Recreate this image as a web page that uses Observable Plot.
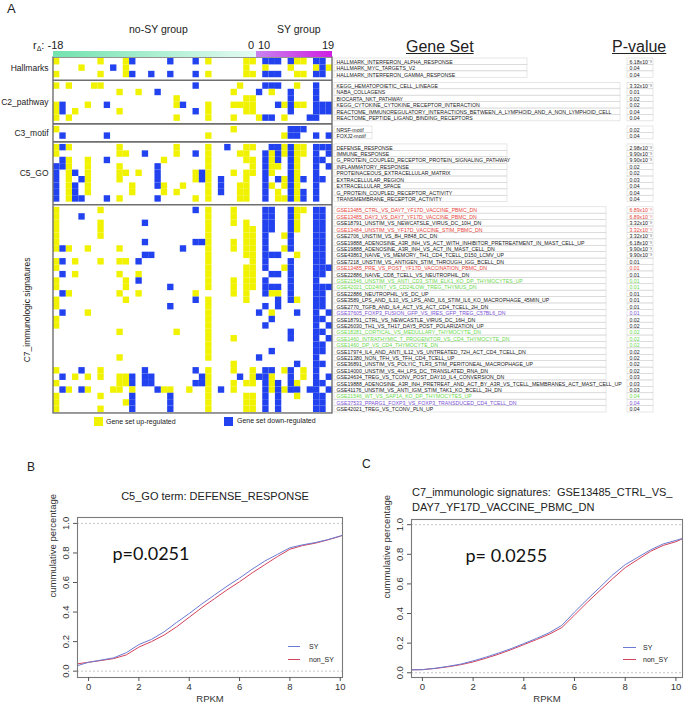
<!DOCTYPE html>
<html><head><meta charset="utf-8">
<script src="https://cdn.jsdelivr.net/npm/d3@7"></script>
<script src="https://cdn.jsdelivr.net/npm/@observablehq/plot@0.6"></script>
<style>
html,body{margin:0;padding:0;background:#fff;}
#fig{position:relative;width:688px;height:706px;overflow:hidden;font-family:"Liberation Sans",Arial,sans-serif;color:#222;}
#fig > svg, #fig > div{position:absolute;}
.t{white-space:nowrap;line-height:1;}
</style></head><body><div id="fig"></div>
<script>
// ================= DATA =================
const nCols = 44;   // ranked samples (r_delta): no-SY (-18 .. 0) then SY (10 .. 19)
const nNoSY = 32;
const groupNames = ["Hallmarks","C2_pathway","C3_motif","C5_GO","C7_immunologic signatures"];

const hallmarkSets = ["HALLMARK_INTERFERON_ALPHA_RESPONSE","HALLMARK_MYC_TARGETS_V2","HALLMARK_INTERFERON_GAMMA_RESPONSE"];
const hallmarkP = ["6.18x10\u207B\u00B3","0.04","0.04"];
const hallmarkUp = [[0,7,11,24,30,31,38,39],[4,11,30,33,37,41,43],[0,7,11,24,30,31,38,39]];
const hallmarkDown = [[12,18,22,33,34,35,37,41,42],[9,42],[12,15,18,22,33,34,35,41,42]];

const c2Sets = ["KEGG_HEMATOPOIETIC_CELL_LINEAGE","NABA_COLLAGENS","BIOCARTA_NKT_PATHWAY","KEGG_CYTOKINE_CYTOKINE_RECEPTOR_INTERACTION","REACTOME_IMMUNOREGULATORY_INTERACTIONS_BETWEEN_A_LYMPHOID_AND_A_NON_LYMPHOID_CELL","REACTOME_PEPTIDE_LIGAND_BINDING_RECEPTORS"];
const c2P = ["3.32x10\u207B\u00B3","0.01","0.02","0.02","0.04","0.04"];
const c2Up = [[0,2,6,7,29,38],[10,13,28,34],[19,30,31],[0,5,19,24,28,29,30,31,36,38,39],[0,3,10,24,30,31],[0,2,19,24,28,32,36]];
const c2Down = [[22,33,34,35,41],[16,32,37,41],[37,41],[1,8,20,35,37,41,42,43],[1,22,37,41,42,43],[33,34,40,41]];

const c3Sets = ["NRSF-motif","FOXJ2-motif"];
const c3P = ["0.02","0.04"];
const c3Up = [[0,28],[24,36]];
const c3Down = [[37,38,39],[1,8,37,38,41,43]];

const c5Sets = ["DEFENSE_RESPONSE","IMMUNE_RESPONSE","G_PROTEIN_COUPLED_RECEPTOR_PROTEIN_SIGNALING_PATHWAY","INFLAMMATORY_RESPONSE","PROTEINACEOUS_EXTRACELLULAR_MATRIX","EXTRACELLULAR_REGION","EXTRACELLULAR_SPACE","G_PROTEIN_COUPLED_RECEPTOR_ACTIVITY","TRANSMEMBRANE_RECEPTOR_ACTIVITY"];
const c5P = ["2.98x10\u207B\u00B3","9.90x10\u207B\u00B3","9.90x10\u207B\u00B3","0.02","0.02","0.03","0.04","0.04","0.04"];
const c5Up = [[0,2,10,19,24,30,31,36,38,39],[0,10,11,19,24,29,30,34,36,38,39],[2,5,17,24,30,31,34,38],[2,5,10,24,31,34,35,38],[2,5,10,11,13,22,24,28,30,31,34,38],[2,5,10,22,24,30,36,38],[2,5,12,17,20,24,29,30,34,36,38],[2,5,12,17,19,24,29,30,35,38],[2,10,22,24,29,30,35,36,38]];
const c5Down = [[1,27,34,35,37,41,42,43],[14,22,33,35,37,41,43],[1,8,33,35,37,41,42],[0,1,16,33,37,41,43],[0,3,16,23,33,37,41],[0,4,16,23,26,33,35,37,39,41,42],[0,3,16,26,33,37,41],[0,3,26,33,37,39,41],[0,3,4,8,16,33,37,39,41]];

const c7Sets = ["GSE13485_CTRL_VS_DAY7_YF17D_VACCINE_PBMC_DN","GSE13485_DAY3_VS_DAY7_YF17D_VACCINE_PBMC_DN","GSE18791_UNSTIM_VS_NEWCATSLE_VIRUS_DC_10H_DN","GSE13484_UNSTIM_VS_YF17D_VACCINE_STIM_PBMC_DN","GSE2706_UNSTIM_VS_8H_R848_DC_DN","GSE19888_ADENOSINE_A3R_INH_VS_ACT_WITH_INHIBITOR_PRETREATMENT_IN_MAST_CELL_UP","GSE19888_ADENOSINE_A3R_INH_VS_ACT_IN_MAST_CELL_DN","GSE43863_NAIVE_VS_MEMORY_TH1_CD4_TCELL_D150_LCMV_UP","GSE7218_UNSTIM_VS_ANTIGEN_STIM_THROUGH_IGG_BCELL_DN","GSE13485_PRE_VS_POST_YF17D_VACCINATION_PBMC_DN","GSE22886_NAIVE_CD8_TCELL_VS_NEUTROPHIL_DN","GSE21546_UNSTIM_VS_ANTI_CD3_STIM_ELK1_KO_DP_THYMOCYTES_UP","GSE42021_CD24INT_VS_CD24LOW_TREG_THYMUS_DN","GSE22886_NEUTROPHIL_VS_DC_UP","GSE3589_LPS_AND_IL10_VS_LPS_AND_IL6_STIM_IL6_KO_MACROPHAGE_45MIN_UP","GSE2770_TGFB_AND_IL4_ACT_VS_ACT_CD4_TCELL_2H_DN","GSE37605_FOXP3_FUSION_GFP_VS_IRES_GFP_TREG_C57BL6_DN","GSE18791_CTRL_VS_NEWCASTLE_VIRUS_DC_16H_DN","GSE26030_TH1_VS_TH17_DAY5_POST_POLARIZATION_UP","GSE18281_CORTICAL_VS_MEDULLARY_THYMOCYTE_DN","GSE1460_INTRATHYMIC_T_PROGENITOR_VS_CD4_THYMOCYTE_DN","GSE1460_DP_VS_CD4_THYMOCYTE_DN","GSE17974_IL4_AND_ANTI_IL12_VS_UNTREATED_72H_ACT_CD4_TCELL_DN","GSE21380_NON_TFH_VS_TFH_CD4_TCELL_UP","GSE36891_UNSTIM_VS_POLYIC_TLR3_STIM_PERITONEAL_MACROPHAGE_UP","GSE14000_UNSTIM_VS_4H_LPS_DC_TRANSLATED_RNA_DN","GSE24634_TREG_VS_TCONV_POST_DAY10_IL4_CONVERSION_DN","GSE19888_ADENOSINE_A3R_INH_PRETREAT_AND_ACT_BY_A3R_VS_TCELL_MEMBRANES_ACT_MAST_CELL_UP","GSE41176_UNSTIM_VS_ANTI_IGM_STIM_TAK1_KO_BCELL_3H_DN","GSE21546_WT_VS_SAP1A_KO_DP_THYMOCYTES_UP","GSE37533_PPARG1_FOXP3_VS_FOXP3_TRANSDUCED_CD4_TCELL_DN","GSE42021_TREG_VS_TCONV_PLN_UP"];
const c7P = ["6.89x10\u207B\u00B3","6.89x10\u207B\u00B3","3.32x10\u207B\u00B3","3.32x10\u207B\u00B3","3.32x10\u207B\u00B3","6.18x10\u207B\u00B3","9.90x10\u207B\u00B3","9.90x10\u207B\u00B3","0.01","0.01","0.01","0.01","0.01","0.01","0.01","0.01","0.01","0.02","0.02","0.02","0.02","0.02","0.02","0.02","0.02","0.02","0.03","0.03","0.03","0.04","0.04","0.04"];
// highlight category of each C7 signature: k = none, r = YF17D vaccine, g = thymocyte, p = Foxp3
const c7Cat = ["r","r","k","r","k","k","k","k","k","r","k","g","g","k","k","k","p","k","k","g","g","g","k","k","k","k","k","k","k","g","p","k"];
const c7Up = [[0,7,24,28,38,39],[0,24,28,38],[0,7,24,28,30,38],[0,7,24,30,31,38],[0,7,24,30,31,36],[0,24,28,30,31],[0,2,5,10,24,28,30,31,36],[24,30,31,38],[0,3,7,10,11,24,31],[0,24,30,31,36],[3,10,13,24,30,31],[0,11,24,28,30,31],[0,11,24,28,30,31],[2,10,13,22,28,30,34,35],[0,11,24,30,38],[0,24],[5,24,34],[0,24],[0,24],[10,19,24],[24,28],[24],[24],[10,24],[28],[0,7,24,28,31,36,39],[3,5,7,10,11,24,31,34,39],[0,10,11,24,28,30,31,34,38],[2,5,9,10,12,17,18,21,24,28,34,36],[0,7,24,30,31,38],[0,11,24,30,31],[0,7,24,30,31]];
const c7Down = [[22,33,34,37,41,42],[4,33,34,37,41,42],[14,33,34,37,41,42],[33,34,37,41,42],[33,37,41,42],[14,22,23,33,37,41,42],[1,20,33,37,41,42],[14,15,33,34,35,41,42],[1,13,33,37,41,42],[33,37,41,42,43],[1,34,35,37,41,42],[13,33,37,41],[18,33,34,35,37,41,42,43],[1,33,37,41,42],[22,35,37,41,42],[18,33,35,41,42],[1,32,38,41,43],[34,41,42],[33,41,43],[37,41,42],[37,41,43],[41,42],[34,41,42],[32,41],[38,41,42],[4,14,22,33,34,37,41],[1,12,14,15,23,29,32,33,37,41,43],[12,14,15,22,23,33,35,37,41,42],[1,4,16,26,33,35,37,38,40,41,43],[12,18,33,35,41,42],[12,18,33,35,41,42],[12,18,33,35,41,42]];

// Panel B: C5_GO DEFENSE_RESPONSE cumulative curves
const rpkmB = [-0.43,0,0.5,1,1.5,2,2.5,3,3.5,4,4.5,5,5.5,6,6.5,7,7.5,8,8.5,9,9.5,10,10.09];
const syB   = [0.038,0.06,0.075,0.09,0.125,0.18,0.215,0.266,0.33,0.39,0.455,0.515,0.575,0.63,0.69,0.745,0.79,0.835,0.855,0.87,0.89,0.915,0.92];
const nonB  = [0.05,0.06,0.072,0.085,0.11,0.163,0.2,0.244,0.3,0.365,0.43,0.49,0.55,0.605,0.665,0.72,0.775,0.825,0.85,0.866,0.888,0.913,0.92];
// Panel C: C7 GSE13485_CTRL_VS_DAY7 cumulative curves
const rpkmC = [-0.43,0,0.5,1,1.5,2,2.5,3,3.5,4,4.5,5,5.5,6,6.5,7,7.5,8,8.5,9,9.5,10,10.26];
const syC   = [0.02,0.021,0.03,0.043,0.058,0.08,0.105,0.133,0.163,0.197,0.232,0.27,0.32,0.41,0.495,0.577,0.66,0.73,0.78,0.83,0.87,0.894,0.907];
const nonC  = [0.02,0.021,0.029,0.04,0.054,0.073,0.098,0.125,0.156,0.19,0.224,0.26,0.305,0.39,0.475,0.555,0.635,0.71,0.765,0.82,0.86,0.885,0.905];

// ================= LAYOUT / STYLE =================
const YEL = "#f0f200", BLU = "#2142ee";
const catColor = {k:"#222", r:"#e8433a", g:"#6bd94b", p:"#7a50d4"};
const GAP = 0.8;
const HX0 = 53, HX1 = 332, HY0 = 58, HY1 = 412;
const pxPerCol = (HX1 - HX0) / nCols;
const col = px => (px - HX0) / pxPerCol;   // page px -> column units of the heatmap x scale
const boxEndPx = [527, 620, 372, 507, 606];

const fig = document.getElementById("fig");
function place(html, left, top, style = "") {
  const d = document.createElement("div");
  d.className = "t"; d.innerHTML = html;
  d.style.cssText = `left:${left}px;top:${top}px;${style}`;
  fig.appendChild(d); return d;
}

// ---------- build rows ----------
const groupSets = [hallmarkSets, c2Sets, c3Sets, c5Sets, c7Sets];
const groupP = [hallmarkP, c2P, c3P, c5P, c7P];
const groupUp = [hallmarkUp, c2Up, c3Up, c5Up, c7Up];
const groupDown = [hallmarkDown, c2Down, c3Down, c5Down, c7Down];
const rows = [], cells = [], groupInfo = [];
let off = 0;
groupSets.forEach((sets, g) => {
  sets.forEach((name, i) => {
    const y = off + i;
    rows.push({g, y, name, p: groupP[g][i], cat: g === 4 ? c7Cat[i] : "k"});
    groupUp[g][i].forEach(c => cells.push({col: c, y, kind: "up"}));
    groupDown[g][i].forEach(c => cells.push({col: c, y, kind: "down"}));
  });
  groupInfo.push({name: groupNames[g], start: off, end: off + sets.length});
  off += sets.length + GAP;
});
const total = off - GAP;
const gapMids = groupInfo.slice(1).map(d => d.start - GAP / 2);

// ---------- Panel A ----------
const A = Plot.plot({
  width: 688, height: 440, margin: 0,
  style: {fontFamily: "Liberation Sans, Arial, sans-serif", background: "transparent"},
  x: {domain: [0, nCols], range: [HX0, HX1], axis: null},
  y: {domain: [0, total], range: [HY0, HY1], axis: null},
  marks: [
    Plot.rect(cells, {x1: "col", x2: d => d.col + 1, y1: "y", y2: d => d.y + 1,
      fill: d => d.kind === "up" ? YEL : BLU}),
    Plot.ruleY(gapMids, {x1: 0, x2: nCols, stroke: "#6f6f6f", strokeWidth: 1.6}),
    Plot.rect([groupInfo], {x1: 0, x2: nCols, y1: d => d[0].start - 0.15, y2: d => d[4].end + 0.15,
      fill: "none", stroke: "#6f6f6f", strokeWidth: 1.4}),
    Plot.rect(rows, {x1: col(334), x2: d => col(boxEndPx[d.g]), y1: "y", y2: d => d.y + 1,
      fill: "none", stroke: "#d6d6d6", strokeWidth: 0.6}),
    Plot.rect(rows, {x1: col(627), x2: col(653), y1: "y", y2: d => d.y + 1,
      fill: "none", stroke: "#d6d6d6", strokeWidth: 0.6}),
    Plot.text(rows, {x: col(336), y: d => d.y + 0.55, text: "name", textAnchor: "start",
      fontSize: 5.2, fill: d => catColor[d.cat]}),
    Plot.text(rows, {x: col(629), y: d => d.y + 0.55, text: "p", textAnchor: "start",
      fontSize: 5.2, fill: d => catColor[d.cat]}),
    Plot.text(groupInfo.slice(0, 4), {x: col(48), y: d => (d.start + d.end) / 2, text: "name",
      textAnchor: "end", fontSize: 8.5, fill: "#222"}),
    Plot.text(groupInfo.slice(4), {x: col(27), y: d => (d.start + d.end) / 2, text: "name",
      rotate: -90, fontSize: 8.5, fill: "#222"})
  ]
});
A.style.left = "0px"; A.style.top = "0px";
fig.appendChild(A);

// ---------- Panels B & C ----------
function cdfPlot({xs, sy, non, xdom, ydom, w, mL, mR, mT, mB, pText, pdx}) {
  const data = xs.flatMap((x, i) => [{x, v: sy[i], s: "SY"}, {x, v: non[i], s: "non_SY"}]);
  return Plot.plot({
    width: w, height: 266, marginLeft: mL, marginRight: mR, marginTop: mT, marginBottom: mB,
    style: {fontFamily: "Liberation Sans, Arial, sans-serif", background: "transparent", color: "#333"},
    x: {domain: xdom}, y: {domain: ydom},
    marks: [
      Plot.ruleY([0, 1], {stroke: "#b8b8b8", strokeDasharray: "2,2", strokeWidth: 0.8}),
      Plot.line(data.filter(d => d.s === "non_SY"), {x: "x", y: "v", stroke: "#d4435b", strokeWidth: 1}),
      Plot.line(data.filter(d => d.s === "SY"), {x: "x", y: "v", stroke: "#6b7bd3", strokeWidth: 1}),
      Plot.frame({stroke: "#7a7a7a", strokeWidth: 1.1}),
      Plot.axisX({ticks: [0, 2, 4, 6, 8, 10], tickSize: 4, tickPadding: 2, fontSize: 9.5, label: null, stroke: "#555"}),
      Plot.axisY({ticks: [0, 0.2, 0.4, 0.6, 0.8, 1], tickFormat: d3.format(".1f"), tickRotate: -90,
        tickSize: 4, fontSize: 9.5, label: null, stroke: "#555"}),
      Plot.text(["cummulative percentage"], {frameAnchor: "left", dx: -25, rotate: -90, fontSize: 9.5, fill: "#333"}),
      Plot.text(["RPKM"], {frameAnchor: "bottom", dy: 24, fontSize: 9.5, fill: "#333"}),
      Plot.text([pText], {frameAnchor: "top-left", dx: pdx, dy: 30, textAnchor: "start", fontSize: 18,
        fill: "#111", fontFamily: "Lato, Liberation Sans, sans-serif"})
    ]
  });
}
const B = cdfPlot({xs: rpkmB, sy: syB, non: nonB, xdom: [-0.44, 10.09], ydom: [-0.043, 1.04],
  w: 360, mL: 77, mR: 18, mT: 77, mB: 29, pText: "p=0.0251", pdx: 35});
B.style.left = "0px"; B.style.top = "440px"; fig.appendChild(B);
const C = cdfPlot({xs: rpkmC, sy: syC, non: nonC, xdom: [-0.43, 10.26], ydom: [-0.032, 1.035],
  w: 344, mL: 67, mR: 6, mT: 79, mB: 29, pText: "p= 0.0255", pdx: 54});
C.style.left = "344px"; C.style.top = "440px"; fig.appendChild(C);

// ---------- text overlays ----------
place("A", 7, 2, "font-size:13px;");
place("no-SY group", 129, 24, "font-size:10.5px;");
place("SY group", 277, 24, "font-size:10.5px;");
place("r<sub style='font-size:7px;vertical-align:-2px'>\u0394</sub>: -18", 33, 40, "font-size:11px;");
place("0", 248, 40, "font-size:11px;");
place("10", 258, 40, "font-size:11px;");
place("19", 322, 40, "font-size:11px;");
place("", HX0, 51, `width:${pxPerCol * nNoSY}px;height:6px;background:linear-gradient(to right,#72e2ae,#e4fbf3);`);
place("", HX0 + pxPerCol * nNoSY, 51, `width:${pxPerCol * (nCols - nNoSY)}px;height:6px;background:linear-gradient(to right,#c884ee,#cf1ee2);`);
place("<u>Gene Set</u>", 406, 39, "font-size:16px;");
place("<u>P-value</u>", 612, 39, "font-size:16px;");
// legend of A
place("", 94, 417, `width:9px;height:9px;background:${YEL};`);
place("Gene set up-regulated", 106, 418, "font-size:7px;");
place("", 224, 417, `width:9px;height:9px;background:${BLU};`);
place("Gene set down-regulated", 237, 417, "font-size:7px;");
// B
place("B", 27, 461, "font-size:12px;");
place("C5_GO term: DEFENSE_RESPONSE", 0, 491, "font-size:11px;width:430px;text-align:center;");
place("", 288, 646, "width:12px;height:0;border-top:1px solid #6b7bd3;");
place("SY", 309, 643, "font-size:7px;");
place("", 288, 659, "width:12px;height:0;border-top:1px solid #d4435b;");
place("non_SY", 309, 656, "font-size:7px;");
// C
place("C", 362, 458, "font-size:12px;");
place("C7_immunologic signatures:&nbsp; GSE13485_CTRL_VS_<br>DAY7_YF17D_VACCINE_PBMC_DN", 412, 485, "font-size:11px;line-height:15px;");
place("", 623, 647, "width:13px;height:0;border-top:1px solid #6b7bd3;");
place("SY", 643, 644, "font-size:7px;");
place("", 623, 659, "width:13px;height:0;border-top:1px solid #d4435b;");
place("non_SY", 643, 656, "font-size:7px;");
</script>
</body></html>
